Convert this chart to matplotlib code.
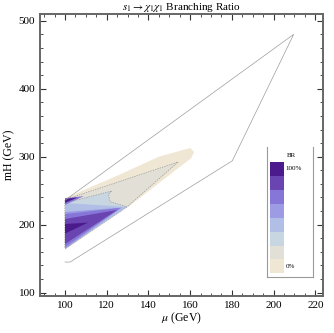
import matplotlib
matplotlib.use("Agg")
from matplotlib import pyplot as plt
from matplotlib.ticker import MultipleLocator

plt.rcParams["font.family"] = ["Liberation Serif", "DejaVu Serif"]
plt.rcParams["mathtext.fontset"] = "stix"

# outline of the scanned region (mu, mH)
outline_mu = [100, 209.6, 180.2, 102.4, 100]
outline_mh = [236, 480, 294, 145, 145]

# branching-ratio bands, lowest first, each drawn over the previous one
band_colors = ["#efe6d3", "#e2e0d6", "#c8d6e2", "#b1bfe7", "#9c9be3", "#8676d8", "#6a44b0", "#4b1a8c"]
bands = [
    [(100, 239), (125, 272), (145, 300), (160, 312.8), (161.9, 306.9), (160.5, 298), (130.2, 226), (100, 163)],
    [(100, 237), (103.8, 240.7), (154.2, 292.2), (130.2, 227.5), (100, 165)],
    [(100, 232), (102.4, 233.8), (122.4, 249.6), (120.8, 244.7), (121.6, 233.8), (129.6, 226.5), (100, 165)],
    [(100, 231.9), (129.8, 226), (100, 165)],
    [(100, 218.7), (127.4, 225.3), (100, 164.3)],
    [(100, 215.7), (126.4, 224.6), (100, 167)],
    [(100, 208.4), (125, 221.6), (100, 171.6)],
    [(100, 201), (111, 203), (100, 187)],
]
dashed_bands = [1, 2]

# small dark corner at the upper left
corner_outer = [(100, 239), (109, 242), (100, 229)]
corner_inner = [(100, 238), (106, 240), (100, 232)]

legend_colors = band_colors  # 0% ... 100%

fig = plt.figure(figsize=(3.34, 3.33), dpi=100)
ax = fig.add_axes([0.1198, 0.112, 0.8462, 0.846])

for i, (pts, col) in enumerate(zip(bands, band_colors)):
    xs = [p[0] for p in pts]
    ys = [p[1] for p in pts]
    if i in dashed_bands:
        ax.fill(xs, ys, facecolor=col, edgecolor="#9a9a9a", lw=0.5, ls=(0, (2, 1.5)))
    else:
        ax.fill(xs, ys, facecolor=col, edgecolor="none")

ax.fill([p[0] for p in corner_outer], [p[1] for p in corner_outer], color=band_colors[5], lw=0)
ax.fill([p[0] for p in corner_inner], [p[1] for p in corner_inner], color=band_colors[7], lw=0)

ax.plot(outline_mu, outline_mh, color="#9c9c9c", lw=0.5)

ax.set_xlim(88, 223.5)
ax.set_ylim(95.5, 510)
ax.xaxis.set_major_locator(MultipleLocator(20))
ax.xaxis.set_minor_locator(MultipleLocator(5))
ax.yaxis.set_major_locator(MultipleLocator(100))
ax.yaxis.set_minor_locator(MultipleLocator(20))
ax.tick_params(which="both", direction="in", top=True, right=True, labelsize=8, color="#333333")
ax.tick_params(which="major", length=4, width=0.8)
ax.tick_params(which="minor", length=2, width=0.6)
for s in ax.spines.values():
    s.set_color("#666666")
    s.set_linewidth(1.4)

# title placed in figure coords so it stays inside the canvas
fig.text(0.542, 0.996, r"$s_1\rightarrow\chi_1\chi_1$ Branching Ratio",
         fontsize=8, ha="center", va="top")
ax.set_xlabel(r"$\mu$ (GeV)", fontsize=8.5, labelpad=1)
ax.set_ylabel("mH (GeV)", fontsize=8.5, labelpad=2)

# legend box
lg = fig.add_axes([0.7985, 0.169, 0.1395, 0.390])
lg.set_xlim(0, 1)
lg.set_ylim(0, 1)
lg.set_xticks([])
lg.set_yticks([])
lg.spines["top"].set_visible(False)
for k in ["left", "right", "bottom"]:
    lg.spines[k].set_color("#9a9a9a")
    lg.spines[k].set_linewidth(0.8)
h = (0.88 - 0.026) / len(legend_colors)
for i, col in enumerate(legend_colors):
    lg.bar(0.07, h, width=0.308, bottom=0.026 + i * h, color=col, align="edge")
lg.text(0.43, 0.936, "BR", fontsize=5, ha="left", va="center")
lg.text(0.40, 0.836, "100%", fontsize=5, ha="left", va="center")
lg.text(0.40, 0.077, "0%", fontsize=5, ha="left", va="center")

fig.savefig("out.png", dpi=100)
